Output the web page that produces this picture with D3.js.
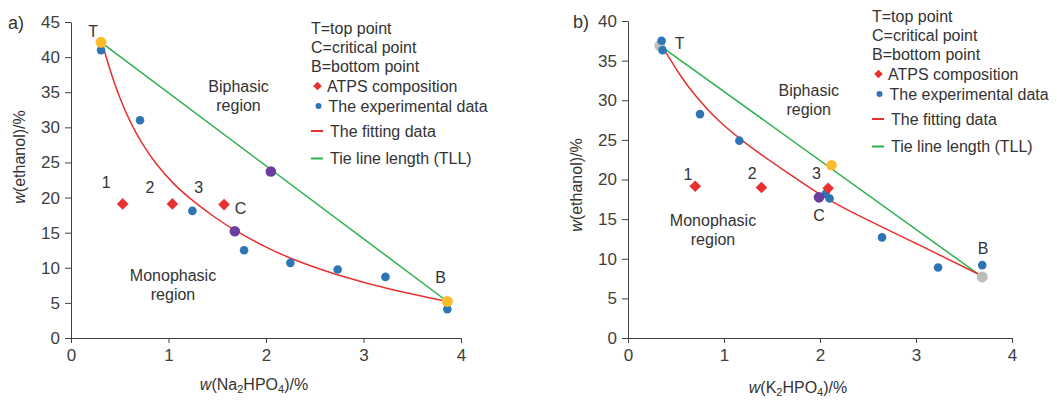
<!DOCTYPE html>
<html>
<head>
<meta charset="utf-8">
<script src="https://cdn.jsdelivr.net/npm/d3@7"></script>
<style>
  body { margin: 0; background: #fff; }
  svg { font-family: "Liberation Sans", Arial, sans-serif; }
  .axis path, .axis line { stroke: #404040; }
  .axis text { font-size: 17px; fill: #404040; }
</style>
</head>
<body>
<div id="chart"></div>
<script>
// ---- data ----
// panel a) Na2HPO4
var naExperimental = [[0.308, 41.0], [0.708, 31.0], [1.245, 18.1], [1.775, 12.5], [2.25, 10.7], [2.735, 9.75], [3.225, 8.7], [3.86, 4.1]]
var naFitting = [[0.33, 41.5], [0.40, 38.1], [0.49, 34.5], [0.60, 30.9], [0.72, 27.8], [0.87, 24.8], [1.05, 21.9], [1.25, 19.5], [1.47, 17.2], [1.68, 15.3], [2.0, 12.9], [2.3, 11.0], [2.75, 8.85], [3.25, 6.95], [3.86, 5.2]]
var naAtps = [[0.53, 19.1], [1.04, 19.1], [1.57, 19.0]]
var naTop = [0.308, 42.1]
var naBottom = [3.86, 5.2]
var naTieMid = [2.05, 23.7]
var naCritical = [1.68, 15.2]

// panel b) K2HPO4
var kExperimental = [[0.35, 37.5], [0.36, 36.3], [0.75, 28.25], [1.16, 24.9], [2.06, 18.2], [2.10, 17.6], [2.646, 12.7], [3.23, 8.9], [3.69, 9.2]]
var kFitting = [[0.35, 36.9], [0.575, 32.5], [0.68, 30.9], [0.92, 27.5], [1.27, 24.1], [1.62, 21.2], [2.0, 18.05], [2.31, 15.95], [3.0, 11.96], [3.70, 7.76]]
var kAtps = [[0.70, 19.15], [1.39, 19.0], [2.085, 18.9]]
var kTop = [0.333, 36.9]
var kBottom = [3.69, 7.7]
var kTieMid = [2.12, 21.8]
var kCritical = [1.99, 17.75]

var xTicks = [0, 1, 2, 3, 4]
var naYTicks = [0, 5, 10, 15, 20, 25, 30, 35, 40, 45]
var kYTicks = [0, 5, 10, 15, 20, 25, 30, 35, 40]

var legendLabels = ['T=top point', 'C=critical point', 'B=bottom point', 'ATPS composition', 'The experimental data', 'The fitting data', 'Tie line length (TLL)']

// annotation text, placed in data units
var naNotes = [['T', 0.226, 43.6], ['C', 1.74, 18.5], ['B', 3.79, 8.6], ['1', 0.36, 22.1], ['2', 0.81, 21.5], ['3', 1.31, 21.4]]
var kNotes = [['T', 0.538, 37.15], ['C', 1.99, 15.5], ['B', 3.70, 11.25], ['1', 0.624, 20.65], ['2', 1.293, 20.7], ['3', 1.964, 20.7]]

var blue = '#2e75b6', red = '#e8302f', green = '#2fb04e', orange = '#fbbd2e', purple = '#6a3d9f', gray = '#bdbdbd'
var textColor = '#333'

var svg = d3.select('#chart').append('svg')
  .attr('width', 1057)
  .attr('height', 401)

function diamond(g, x, y, r) {
  g.append('path')
    .attr('d', `M${x},${y - r}L${x + r},${y}L${x},${y + r}L${x - r},${y}Z`)
    .attr('fill', red)
}

function panel(opt) {
  var x = d3.scaleLinear().domain([0, 4]).range(opt.xRange)
  var y = d3.scaleLinear().domain([0, opt.yMax]).range([338, opt.yTop])
  var g = svg.append('g')

  g.append('g')
    .attr('class', 'axis')
    .attr('transform', 'translate(0,338)')
    .call(d3.axisBottom(x).tickValues(xTicks).tickFormat(d3.format('d')).tickSize(5).tickSizeOuter(0).tickPadding(6))
  g.append('g')
    .attr('class', 'axis')
    .attr('transform', `translate(${opt.xRange[0]},0)`)
    .call(d3.axisLeft(y).tickValues(opt.yTicks).tickFormat(d3.format('d')).tickSize(6).tickSizeOuter(0).tickPadding(5))
  g.selectAll('.axis text').attr('font-family', '"Liberation Sans", Arial, sans-serif')

  // tie line + fitted binodal
  g.append('path')
    .attr('d', d3.line().x(d => x(d[0])).y(d => y(d[1]))([opt.top, opt.bottom]))
    .attr('stroke', green).attr('stroke-width', 1.5).attr('fill', 'none')
  g.append('path')
    .attr('d', d3.line().x(d => x(d[0])).y(d => y(d[1])).curve(d3.curveBasis)(opt.fitting))
    .attr('stroke', red).attr('stroke-width', 1.5).attr('fill', 'none')

  if (opt.endColor === gray) {
    g.selectAll('.end').data([opt.top, opt.bottom]).join('circle')
      .attr('cx', d => x(d[0])).attr('cy', d => y(d[1])).attr('r', 5.5).attr('fill', gray)
  }
  g.selectAll('.exp').data(opt.experimental).join('circle')
    .attr('cx', d => x(d[0])).attr('cy', d => y(d[1])).attr('r', 4.3).attr('fill', blue)
  if (opt.endColor !== gray) {
    g.selectAll('.end').data([opt.top, opt.bottom]).join('circle')
      .attr('cx', d => x(d[0])).attr('cy', d => y(d[1])).attr('r', 5.5).attr('fill', opt.endColor)
  }
  g.append('circle').attr('cx', x(opt.tieMid[0])).attr('cy', y(opt.tieMid[1])).attr('r', 5.3).attr('fill', opt.midColor)
  g.append('circle').attr('cx', x(opt.critical[0])).attr('cy', y(opt.critical[1])).attr('r', 5.3).attr('fill', purple)
  opt.atps.forEach(d => diamond(g, x(d[0]), y(d[1]), 5.8))

  // annotations
  g.selectAll('.note').data(opt.notes).join('text')
    .attr('x', d => x(d[1])).attr('y', d => y(d[2]))
    .attr('text-anchor', 'middle').attr('dominant-baseline', 'central')
    .attr('font-size', 16).attr('fill', textColor)
    .text(d => d[0])

  function region(lines, px, py) {
    var t = g.append('text').attr('text-anchor', 'middle').attr('font-size', 16).attr('fill', textColor)
    lines.forEach((s, i) => t.append('tspan').attr('x', px).attr('y', py + i * 19).attr('dominant-baseline', 'central').text(s))
  }
  region(['Biphasic', 'region'], opt.bi[0], opt.bi[1])
  region(['Monophasic', 'region'], opt.mono[0], opt.mono[1])

  // legend
  var rows = [0, 19, 38, 58, 78, 103, 130.5]
  var lg = g.append('g').attr('transform', `translate(${opt.legend[0]},${opt.legend[1]})`)
  legendLabels.forEach((s, i) => {
    var tx = 0
    if (i === 3) { diamond(lg, 6.5, rows[i], 4.3); tx = 16 }
    if (i === 4) { lg.append('circle').attr('cx', 7.5).attr('cy', rows[i]).attr('r', 3).attr('fill', blue); tx = 17.5 }
    if (i === 5 || i === 6) {
      lg.append('line').attr('x1', 0).attr('x2', 12).attr('y1', rows[i]).attr('y2', rows[i])
        .attr('stroke', i === 5 ? red : green).attr('stroke-width', 2)
      tx = 19
    }
    lg.append('text').attr('x', tx).attr('y', rows[i]).attr('dominant-baseline', 'central')
      .attr('font-size', 16).attr('fill', textColor).text(s)
  })

  // axis titles
  var xt = g.append('text').attr('x', opt.xTitle[0]).attr('y', opt.xTitle[1]).attr('text-anchor', 'middle')
    .attr('font-size', 16).attr('fill', textColor)
  xt.append('tspan').attr('font-style', 'italic').text('w')
  xt.append('tspan').text('(' + opt.salt[0])
  xt.append('tspan').attr('font-size', 11).attr('dy', 3).text('2')
  xt.append('tspan').attr('dy', -3).text('HPO')
  xt.append('tspan').attr('font-size', 11).attr('dy', 3).text('4')
  xt.append('tspan').attr('dy', -3).text(')/%')

  var yt = g.append('text').attr('transform', `translate(${opt.yTitle[0]},${opt.yTitle[1]}) rotate(-90)`)
    .attr('text-anchor', 'middle').attr('dominant-baseline', 'central')
    .attr('font-size', 16).attr('fill', textColor)
  yt.append('tspan').attr('font-style', 'italic').text('w')
  yt.append('tspan').text('(ethanol)/%')

  g.append('text').attr('x', opt.tag[0]).attr('y', opt.tag[1]).attr('dominant-baseline', 'central')
    .attr('font-size', 18).attr('fill', textColor).text(opt.tag[2])
}

panel({
  xRange: [71, 461], yMax: 45, yTop: 22, yTicks: naYTicks,
  experimental: naExperimental, fitting: naFitting, atps: naAtps,
  top: naTop, bottom: naBottom, tieMid: naTieMid, critical: naCritical,
  endColor: orange, midColor: purple, notes: naNotes,
  bi: [238.5, 86], mono: [173, 275], legend: [311, 28],
  xTitle: [254, 390], salt: ['Na'], yTitle: [19, 157], tag: [8, 23, 'a)']
})

panel({
  xRange: [628, 1012], yMax: 40, yTop: 21, yTicks: kYTicks,
  experimental: kExperimental, fitting: kFitting, atps: kAtps,
  top: kTop, bottom: kBottom, tieMid: kTieMid, critical: kCritical,
  endColor: gray, midColor: orange, notes: kNotes,
  bi: [808.7, 90], mono: [713, 220.7], legend: [872, 16],
  xTitle: [798, 393], salt: ['K'], yTitle: [575.5, 185], tag: [573, 22, 'b)']
})
</script>
</body>
</html>
